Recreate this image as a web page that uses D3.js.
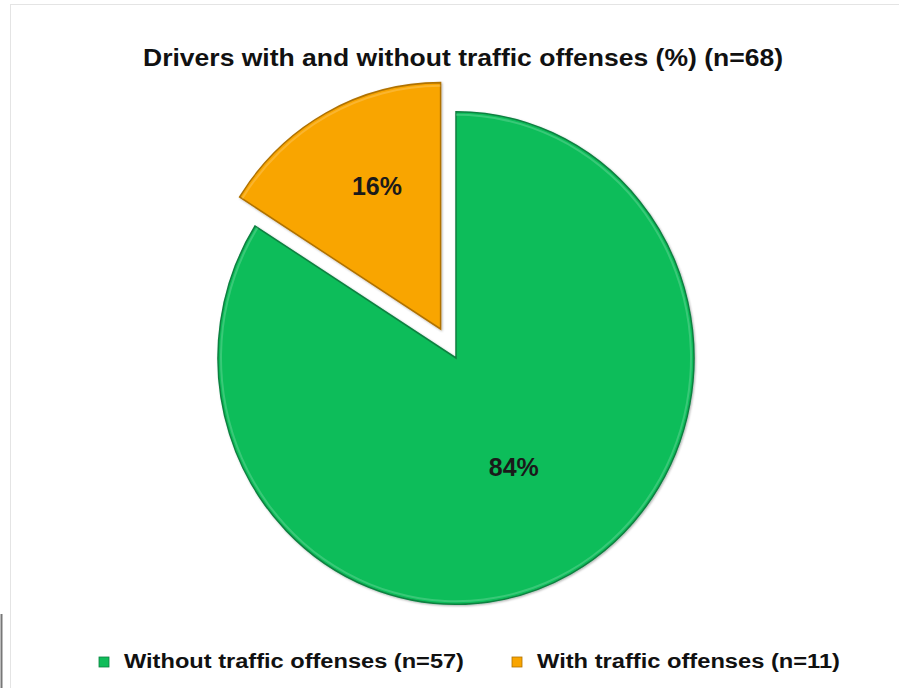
<!DOCTYPE html>
<html>
<head>
<meta charset="utf-8">
<script src="https://cdn.jsdelivr.net/npm/d3@7"></script>
<style>
  body { margin: 0; background: #fff; }
  text { font-family: "Liberation Sans", Arial, sans-serif; }
</style>
</head>
<body>
<div id="chart"></div>
<script>
// data
var categories = ['Without traffic offenses (n=57)', 'With traffic offenses (n=11)'];
var percents = [84, 16];
var labels = ['84%', '16%'];
var colors = ['#10bd5a', '#f9a500'];
var edges = ['#0a8040', '#b07200'];

var width = 899, height = 688,
    svg = d3.select('#chart').append('svg')
        .attr('width', width)
        .attr('height', height);

// faint frame of the original picture
svg.append('rect')
    .attr('x', 10.5).attr('y', 4.5)
    .attr('width', width).attr('height', height)
    .attr('fill', 'none').attr('stroke', '#e4e4e4');
svg.append('line')
    .attr('x1', 1.5).attr('x2', 1.5).attr('y1', 614).attr('y2', height)
    .attr('stroke', '#777').attr('stroke-width', 2);

var defs = svg.append('defs');
var f = defs.append('filter').attr('id', 'shade')
    .attr('x', '-10%').attr('y', '-10%').attr('width', '120%').attr('height', '120%');
f.append('feDropShadow').attr('dx', 1).attr('dy', 1).attr('stdDeviation', 1.2)
    .attr('flood-color', '#000').attr('flood-opacity', 0.3);

var radius = 238,
    sy = 1.035,
    g = svg.append('g')
        .attr('transform', 'translate(456,358) scale(1,' + sy + ')');

var pie = d3.pie().sort(null).value(function (d) { return d; });
var arcs = pie(percents);

var arc = d3.arc().innerRadius(0).outerRadius(radius);
var explode = [0, 32];
// label placement inside each slice: radius and fraction of the slice angle
var labelR = [120, 152];
var labelFrac = [0.5, 0.57];

var slices = g.selectAll('.arc')
    .data(arcs)
    .enter().append('g')
    .attr('class', 'arc')
    .attr('transform', function (d, i) {
        var a = (d.startAngle + d.endAngle) / 2;
        return 'translate(' + (Math.sin(a) * explode[i]) + ',' + (-Math.cos(a) * explode[i]) + ')';
    });

slices.append('path')
    .attr('d', arc)
    .attr('fill', function (d, i) { return colors[i]; })
    .attr('stroke', function (d, i) { return edges[i]; })
    .attr('stroke-width', 1.5)
    .attr('filter', 'url(#shade)');

// thin light bevel just inside the rim
slices.append('path')
    .attr('d', d3.arc().innerRadius(radius - 4).outerRadius(radius - 2))
    .attr('fill', '#fff')
    .attr('opacity', 0.18);

slices.append('text')
    .attr('transform', function (d, i) {
        var a = d.startAngle + (d.endAngle - d.startAngle) * labelFrac[i];
        return 'translate(' + (Math.sin(a) * labelR[i]) + ',' + (-Math.cos(a) * labelR[i]) + ') scale(1,' + (1 / sy) + ')';
    })
    .attr('text-anchor', 'middle')
    .attr('dy', '0.36em')
    .attr('font-size', 25)
    .attr('font-weight', 'bold')
    .attr('fill', '#1a1a1a')
    .text(function (d, i) { return labels[i]; });

// title
svg.append('text')
    .attr('x', 463).attr('y', 66)
    .attr('text-anchor', 'middle')
    .attr('font-size', 24.5)
    .attr('font-weight', 'bold')
    .attr('fill', '#111')
    .attr('textLength', 640)
    .attr('lengthAdjust', 'spacingAndGlyphs')
    .text('Drivers with and without traffic offenses (%) (n=68)');

// legend
var legendX = [99, 512];
var legendW = [340, 303];
var leg = svg.selectAll('.legend')
    .data(categories)
    .enter().append('g')
    .attr('class', 'legend')
    .attr('transform', function (d, i) { return 'translate(' + legendX[i] + ',657)'; });
leg.append('rect')
    .attr('width', 10).attr('height', 10)
    .attr('fill', function (d, i) { return colors[i]; })
    .attr('stroke', function (d, i) { return edges[i]; })
    .attr('stroke-width', 0.8);
leg.append('text')
    .attr('x', 25).attr('y', 11)
    .attr('font-size', 19.5)
    .attr('font-weight', 'bold')
    .attr('fill', '#111')
    .attr('textLength', function (d, i) { return legendW[i]; })
    .attr('lengthAdjust', 'spacingAndGlyphs')
    .text(function (d) { return d; });
</script>
</body>
</html>
